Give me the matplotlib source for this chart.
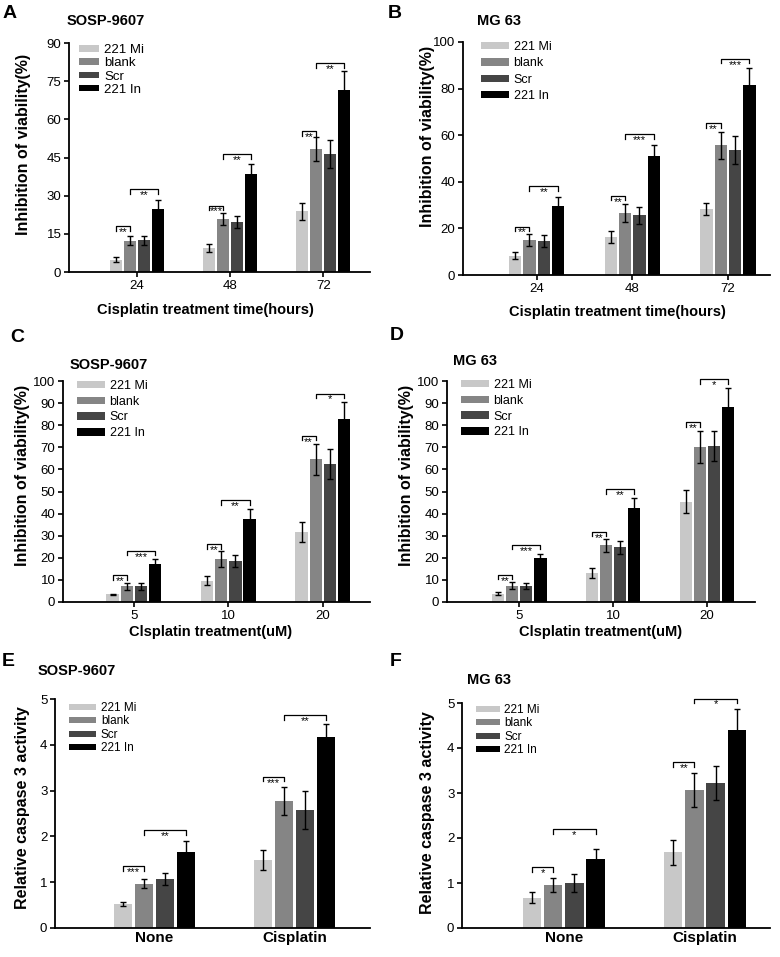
import matplotlib
matplotlib.use('Agg')
import matplotlib.pyplot as plt
import numpy as np

plt.rcParams['font.family'] = ['Liberation Sans', 'DejaVu Sans']

# series shared by all panels
groups = ['221 Mi', 'blank', 'Scr', '221 In']
colors = ['#c8c8c8', '#858585', '#454545', '#000000']

# A: SOSP-9607, treatment time
a_cats = ['24', '48', '72']
a_mean = [[4.8, 9.4, 23.8], [12.3, 20.8, 48.3], [12.4, 19.7, 46.3], [24.8, 38.6, 71.7]]
a_err = [[1.0, 1.5, 3.5], [1.7, 2.3, 4.6], [1.6, 2.5, 5.5], [3.5, 4.0, 7.2]]
a_sig = [(0, 0, 1, 17.9, '**'), (0, 1, 3, 32.6, '**'), (1, 0, 1, 26.1, '***'),
         (1, 1, 3, 46.2, '**'), (2, 0, 1, 55.4, '**'), (2, 1, 3, 82.1, '**')]

# B: MG 63, treatment time
b_cats = ['24', '48', '72']
b_mean = [[8.2, 16.3, 28.2], [15.0, 26.5, 55.6], [14.5, 25.6, 53.7], [29.7, 51.1, 81.7]]
b_err = [[1.5, 2.5, 2.6], [2.5, 3.9, 5.7], [2.5, 3.5, 6.0], [3.7, 4.9, 7.1]]
b_sig = [(0, 0, 1, 20.8, '**'), (0, 1, 3, 38.0, '**'), (1, 0, 1, 34.0, '**'),
         (1, 1, 3, 60.5, '***'), (2, 0, 1, 65.2, '**'), (2, 1, 3, 92.8, '***')]

# C: SOSP-9607, dose
c_cats = ['5', '10', '20']
c_mean = [[3.4, 9.6, 31.7], [7.1, 19.5, 64.5], [7.1, 18.5, 62.4], [17.3, 37.6, 82.6]]
c_err = [[0.4, 2.0, 4.4], [1.5, 3.8, 6.9], [1.5, 2.6, 6.9], [2.1, 4.7, 8.1]]
c_sig = [(0, 0, 1, 12.0, '**'), (0, 1, 3, 23.2, '***'), (1, 0, 1, 26.2, '**'),
         (1, 1, 3, 46.0, '**'), (2, 0, 1, 75.2, '**'), (2, 1, 3, 94.3, '*')]

# D: MG 63, dose
d_cats = ['5', '10', '20']
d_mean = [[3.8, 13.1, 45.4], [7.4, 25.6, 70.2], [7.4, 24.7, 70.5], [19.8, 42.4, 88.3]]
d_err = [[0.5, 2.2, 5.3], [1.6, 2.8, 7.1], [1.4, 3.0, 6.8], [2.0, 4.5, 8.5]]
d_sig = [(0, 0, 1, 12.3, '**'), (0, 1, 3, 25.9, '***'), (1, 0, 1, 31.7, '**'),
         (1, 1, 3, 51.0, '**'), (2, 0, 1, 81.4, '**'), (2, 1, 3, 100.8, '*')]

# E: SOSP-9607, caspase 3
e_cats = ['None', 'Cisplatin']
e_mean = [[0.53, 1.48], [0.97, 2.77], [1.06, 2.58], [1.67, 4.18]]
e_err = [[0.04, 0.22], [0.09, 0.30], [0.13, 0.41], [0.23, 0.28]]
e_sig = [(0, 0, 1, 1.35, '***'), (0, 1, 3, 2.13, '**'), (1, 0, 1, 3.30, '***'), (1, 1, 3, 4.64, '**')]

# F: MG 63, caspase 3
f_cats = ['None', 'Cisplatin']
f_mean = [[0.67, 1.68], [0.96, 3.07], [1.00, 3.22], [1.53, 4.39]]
f_err = [[0.12, 0.27], [0.16, 0.38], [0.21, 0.38], [0.22, 0.48]]
f_sig = [(0, 0, 1, 1.35, '*'), (0, 1, 3, 2.19, '*'), (1, 0, 1, 3.68, '**'), (1, 1, 3, 5.10, '*')]

W, H = 780, 957
fig = plt.figure(figsize=(W / 100, H / 100), dpi=100)

STEP = 0.15
BAR_W = 0.13


def px_axes(x0, x1, ytop, ybot):
    return fig.add_axes([x0 / W, 1 - ybot / H, (x1 - x0) / W, (ybot - ytop) / H])


def panel(ax, cats, means, errs, sigs, ylim, yticks, xlim, cat_bold, xticks_on, leg):
    x = np.arange(len(cats))
    for i, name in enumerate(groups):
        ax.bar(x + (i - 1.5) * STEP, means[i], BAR_W, color=colors[i], label=name,
               yerr=errs[i], capsize=2.5,
               error_kw=dict(ecolor='black', elinewidth=1.0, capthick=1.0))
    h = ylim[1] * 0.02
    for ci, s1, s2, y, txt in sigs:
        x1 = ci + (s1 - 1.5) * STEP
        x2 = ci + (s2 - 1.5) * STEP
        ax.plot([x1, x1, x2, x2], [y - h, y, y, y - h], color='black', lw=0.9, clip_on=False)
        ax.text((x1 + x2) / 2, y - h * 0.2, txt, ha='center', va='top', fontsize=8, clip_on=False)
    ax.set_ylim(*ylim)
    ax.set_yticks(yticks)
    ax.set_xlim(*xlim)
    ax.set_xticks(x)
    if cat_bold:
        ax.set_xticklabels(cats, fontsize=11, fontweight='bold')
    else:
        ax.set_xticklabels(cats, fontsize=9.5)
    ax.tick_params(axis='y', labelsize=9.5, length=3.5, width=1.2, pad=2)
    ax.tick_params(axis='x', length=3.5 if xticks_on else 0, width=1.2, pad=2)
    ax.spines['top'].set_visible(False)
    ax.spines['right'].set_visible(False)
    ax.spines['left'].set_linewidth(1.3)
    ax.spines['bottom'].set_linewidth(1.3)
    fs, hl, hh, ls, lx, ly = leg
    ax.legend(loc='upper left', bbox_to_anchor=(lx / W, 1 - ly / H), bbox_transform=fig.transFigure,
              frameon=False, fontsize=fs, handlelength=hl, handleheight=hh, labelspacing=ls,
              handletextpad=0.4, borderpad=0, borderaxespad=0)


axA = px_axes(69, 370, 43, 272)
panel(axA, a_cats, a_mean, a_err, a_sig, (0, 90), np.arange(0, 91, 15), (-0.73, 2.5), False, True,
      (9.5, 1.5, 0.38, 0.1, 79, 44))
axB = px_axes(463, 770, 42, 275)
panel(axB, b_cats, b_mean, b_err, b_sig, (0, 100), np.arange(0, 101, 20), (-0.77, 2.44), False, True,
      (9, 2.2, 0.55, 0.35, 481, 41))
axC = px_axes(63, 370, 381, 602)
panel(axC, c_cats, c_mean, c_err, c_sig, (0, 100), np.arange(0, 101, 10), (-0.75, 2.5), False, True,
      (9, 2.2, 0.55, 0.3, 77, 380))
axD = px_axes(447, 755, 381, 602)
panel(axD, d_cats, d_mean, d_err, d_sig, (0, 100), np.arange(0, 101, 10), (-0.77, 2.51), False, True,
      (9, 2.2, 0.55, 0.3, 461, 379))
axE = px_axes(55, 370, 699, 928)
panel(axE, e_cats, e_mean, e_err, e_sig, (0, 5), np.arange(0, 6, 1), (-0.71, 1.54), True, False,
      (8.5, 2.3, 0.42, 0.12, 69, 702))
axF = px_axes(462, 770, 703, 928)
panel(axF, f_cats, f_mean, f_err, f_sig, (0, 5), np.arange(0, 6, 1), (-0.72, 1.46), True, False,
      (8.5, 2.0, 0.42, 0.12, 476, 704))


def ftext(x, y, s, **kw):
    fig.text(x / W, 1 - y / H, s, **kw)


# panel letters
for lx, ly, s in [(3, 13, 'A'), (388, 13, 'B'), (10, 337, 'C'), (390, 336, 'D'), (2, 661, 'E'), (390, 662, 'F')]:
    ftext(lx, ly, s, fontsize=14, fontweight='bold', va='center', ha='left')

# cell line titles
for tx, ty, s in [(67, 21, 'SOSP-9607'), (477, 21, 'MG 63'), (70, 365, 'SOSP-9607'),
                  (453, 361, 'MG 63'), (38, 671, 'SOSP-9607'), (467, 680, 'MG 63')]:
    ftext(tx, ty, s, fontsize=10.5, fontweight='bold', va='center', ha='left')

# y labels
for yx, yy, s in [(24, 144, 'Inhibition of viability(%)'), (427, 136, 'Inhibition of viability(%)'),
                  (23, 475, 'Inhibition of viability(%)'), (407, 475, 'Inhibition of viability(%)'),
                  (23, 808, 'Relative caspase 3 activity'), (427, 813, 'Relative caspase 3 activity')]:
    ftext(yx, yy, s, fontsize=11.5, fontweight='bold', rotation=90, va='center', ha='center')

# x labels
for xx, xy, s in [(205, 310, 'Cisplatin treatment time(hours)'), (617, 312, 'Cisplatin treatment time(hours)'),
                  (211, 632, 'Clsplatin treatment(uM)'), (601, 632, 'Clsplatin treatment(uM)')]:
    ftext(xx, xy, s, fontsize=10.5, fontweight='bold', va='center', ha='center')

fig.savefig('out.png', dpi=100)
